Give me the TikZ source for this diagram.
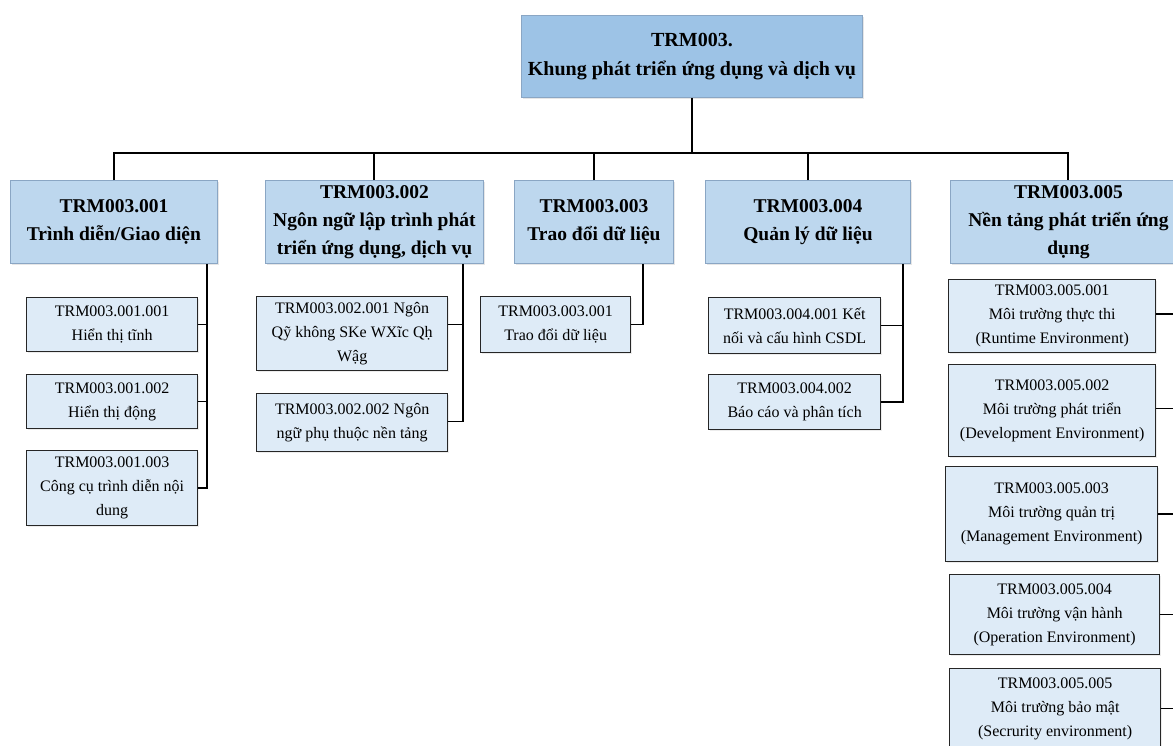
\documentclass[tikz,border=0pt]{standalone}
\usepackage{fontspec}
\setmainfont{Liberation Serif}
\usetikzlibrary{shadows}
\definecolor{rootfill}{HTML}{9DC3E6}
\definecolor{hfill}{HTML}{BDD7EE}
\definecolor{lfill}{HTML}{DEEBF7}
\definecolor{hborder}{HTML}{8AA6C4}
\begin{document}
\begin{tikzpicture}[x=1pt,y=-1pt,
  rootbox/.style={draw=hborder, line width=0.9pt, fill=rootfill, anchor=north west, inner sep=0pt, align=center,
    font=\fontsize{20}{29}\selectfont\bfseries, drop shadow={opacity=0.2, shadow xshift=1.5pt, shadow yshift=-1.5pt}},
  headbox/.style={draw=hborder, line width=0.9pt, fill=hfill, anchor=north west, inner sep=0pt, align=center,
    font=\fontsize{19.5}{28}\selectfont\bfseries, drop shadow={opacity=0.2, shadow xshift=1.5pt, shadow yshift=-1.5pt}},
  leafbox/.style={draw=black!85, line width=1.3pt, fill=lfill, anchor=north west, inner sep=0pt, align=center,
    font=\fontsize{16}{24}\selectfont, drop shadow={opacity=0.15, shadow xshift=1.5pt, shadow yshift=-1.5pt}},
  conn/.style={line width=2pt, black},
  leafconn/.style={line width=1.5pt, black}]
\useasboundingbox (0,0) rectangle (1173,745);
\clip (0,0) rectangle (1173,745);

% root
\node[rootbox, minimum width=341pt, minimum height=82pt] (root) at (521,15) {TRM003.\\Khung phát triển ứng dụng và dịch vụ};

% level 1
\node[headbox, minimum width=207pt, minimum height=83pt] (h1) at (10,180) {TRM003.001\\Trình diễn/Giao diện};
\node[headbox, minimum width=218pt, minimum height=83pt] (h2) at (265,180) {TRM003.002\\Ngôn ngữ lập trình phát\\triển ứng dụng, dịch vụ};
\node[headbox, minimum width=159pt, minimum height=83pt] (h3) at (514,180) {TRM003.003\\Trao đổi dữ liệu};
\node[headbox, minimum width=205pt, minimum height=83pt] (h4) at (705,180) {TRM003.004\\Quản lý dữ liệu};
\node[headbox, minimum width=236pt, minimum height=83pt] (h5) at (950,180) {TRM003.005\\Nền tảng phát triển ứng\\dụng};

% level 2
\node[leafbox, minimum width=171pt, minimum height=54pt] (a1) at (26,297) {TRM003.001.001\\Hiển thị tĩnh};
\node[leafbox, minimum width=171pt, minimum height=54pt] (a2) at (26,374) {TRM003.001.002\\Hiển thị động};
\node[leafbox, minimum width=171pt, minimum height=75pt] (a3) at (26,450) {TRM003.001.003\\Công cụ trình diễn nội\\dung};

\node[leafbox, minimum width=191pt, minimum height=74pt] (b1) at (256,296) {TRM003.002.001 Ngôn\\Qỹ không SKe WXĩc Qḥ\\Wậg};
\node[leafbox, minimum width=191pt, minimum height=58pt] (b2) at (256,393) {TRM003.002.002 Ngôn\\ngữ phụ thuộc nền tảng};

\node[leafbox, minimum width=150pt, minimum height=56pt] (c1) at (480,296) {TRM003.003.001\\Trao đổi dữ liệu};

\node[leafbox, minimum width=172pt, minimum height=56pt] (d1) at (708,297) {TRM003.004.001 Kết\\nối và cấu hình CSDL};
\node[leafbox, minimum width=172pt, minimum height=55pt] (d2) at (708,374) {TRM003.004.002\\Báo cáo và phân tích};

\node[leafbox, minimum width=207pt, minimum height=73pt] (e1) at (948,279) {TRM003.005.001\\Môi trường thực thi\\(Runtime Environment)};
\node[leafbox, minimum width=207pt, minimum height=92pt] (e2) at (948,364) {TRM003.005.002\\Môi trường phát triển\\(Development Environment)};
\node[leafbox, minimum width=212pt, minimum height=95pt] (e3) at (945,466) {TRM003.005.003\\Môi trường quản trị\\(Management Environment)};
\node[leafbox, minimum width=210pt, minimum height=80pt] (e4) at (949,574) {TRM003.005.004\\Môi trường vận hành\\(Operation Environment)};
\node[leafbox, minimum width=211pt, minimum height=80pt] (e5) at (949,668) {TRM003.005.005\\Môi trường bảo mật\\(Secrurity environment)};

% bus
\coordinate (bus) at (0,153);
\draw[conn] (root.south) -- (root.south |- bus);
\draw[conn] (h1.north) |- (bus -| h5.north) -- (h5.north);
\draw[conn] (h2.north) -- (h2.north |- bus);
\draw[conn] (h3.north) -- (h3.north |- bus);
\draw[conn] (h4.north) -- (h4.north |- bus);

% trunks
\coordinate (t1) at (207,0);
\coordinate (t2) at (463,0);
\coordinate (t3) at (643,0);
\coordinate (t4) at (903,0);
\coordinate (t5) at (1190,0);

\draw[leafconn] (h1.south -| t1) |- (a3.east);
\draw[leafconn] (a1.east) -- (a1.east -| t1);
\draw[leafconn] (a2.east) -- (a2.east -| t1);

\draw[leafconn] (h2.south -| t2) |- ([yshift=1pt]b2.east);
\draw[leafconn] ([yshift=9pt]b1.east) -- ([yshift=9pt]b1.east -| t2);

\draw[leafconn] (h3.south -| t3) |- (c1.east);

\draw[leafconn] (h4.south -| t4) |- (d2.east);
\draw[leafconn] (d1.east) -- (d1.east -| t4);

\draw[leafconn] ([yshift=2pt]e1.east) -- ([yshift=2pt]e1.east -| t5);
\draw[leafconn] ([yshift=2pt]e2.east) -- ([yshift=2pt]e2.east -| t5);
\draw[leafconn] (e3.east) -- (e3.east -| t5);
\draw[leafconn] (e4.east) -- (e4.east -| t5);
\draw[leafconn] (e5.east) -- (e5.east -| t5);
\end{tikzpicture}
\end{document}
